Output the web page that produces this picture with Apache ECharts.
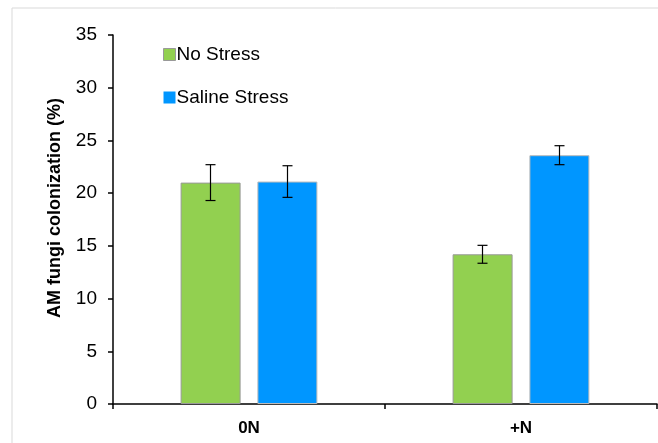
<!DOCTYPE html>
<html>
<head>
<meta charset="utf-8">
<script src="https://cdn.jsdelivr.net/npm/echarts@6/dist/echarts.min.js"></script>
<style>html,body{margin:0;padding:0;background:#fff}#c{width:658px;height:443px}</style>
</head>
<body>
<div id="c"></div>
<script>
var categories = ['0N', '+N'];
var noStress = [21.0, 14.2];
var noStressErr = [1.7, 0.85];
var salineStress = [21.1, 23.6];
var salineStressErr = [1.5, 0.9];
var yTicks = [0, 5, 10, 15, 20, 25, 30, 35];
var yTitle = 'AM fungi colonization (%)';

var chart = echarts.init(document.getElementById('c'));
var font = 'Liberation Sans, Arial, sans-serif';

function errSeries(vals, errs, offset) {
  return {
    type: 'custom',
    z: 10,
    data: vals.map(function (v, i) { return [i, v - errs[i], v + errs[i]]; }),
    renderItem: function (params, api) {
      var lo = api.coord([api.value(0), api.value(1)]);
      var hi = api.coord([api.value(0), api.value(2)]);
      var x = lo[0] + offset;
      var cap = 5;
      var st = { stroke: '#000', lineWidth: 1.2 };
      return {
        type: 'group',
        children: [
          { type: 'line', shape: { x1: x, y1: lo[1], x2: x, y2: hi[1] }, style: st },
          { type: 'line', shape: { x1: x - cap, y1: lo[1], x2: x + cap, y2: lo[1] }, style: st },
          { type: 'line', shape: { x1: x - cap, y1: hi[1], x2: x + cap, y2: hi[1] }, style: st }
        ]
      };
    }
  };
}

chart.setOption({
  animation: false,
  backgroundColor: '#fff',
  graphic: [{
    type: 'rect',
    shape: { x: 12, y: 8, width: 660, height: 460 },
    style: { fill: 'none', stroke: '#d9d9d9', lineWidth: 1 },
    silent: true
  }, {
    type: 'text',
    x: 55,
    y: 208,
    rotation: Math.PI / 2,
    style: {
      text: yTitle,
      fontFamily: font,
      fontSize: 18,
      fontWeight: 'bold',
      fill: '#000',
      align: 'center',
      verticalAlign: 'middle'
    },
    silent: true
  }],
  legend: {
    orient: 'vertical',
    left: 158,
    top: 40,
    itemWidth: 12,
    itemHeight: 12,
    itemGap: 24,
    textStyle: { fontFamily: font, fontSize: 19, color: '#000', padding: [0, 0, 0, -4] },
    data: [
      { name: 'No Stress', icon: 'rect', itemStyle: { borderColor: '#999', borderWidth: 1 } },
      { name: 'Saline Stress', icon: 'rect', itemStyle: { borderWidth: 0 } }
    ]
  },
  grid: { left: 113, right: 1, top: 35, bottom: 39 },
  xAxis: {
    type: 'category',
    data: categories,
    axisLine: { lineStyle: { color: '#000', width: 1.5 } },
    axisTick: { show: true, alignWithLabel: false, length: 5, lineStyle: { color: '#000', width: 1.5 } },
    axisLabel: { fontFamily: font, fontSize: 17, fontWeight: 'bold', color: '#000', margin: 16 }
  },
  yAxis: {
    type: 'value',
    min: yTicks[0],
    max: yTicks[yTicks.length - 1],
    interval: 5,
    axisLine: { show: true, lineStyle: { color: '#000', width: 1.5 } },
    axisTick: { show: true, length: 5, lineStyle: { color: '#000', width: 1.5 } },
    axisLabel: { fontFamily: font, fontSize: 19, color: '#000', margin: 16 },
    splitLine: { show: false }
  },
  series: [
    {
      name: 'No Stress', type: 'bar', data: noStress, barWidth: 60, barGap: '28%',
      itemStyle: { color: '#92d050', borderColor: '#999', borderWidth: 1 }
    },
    {
      name: 'Saline Stress', type: 'bar', data: salineStress, barWidth: 60, barGap: '28%',
      itemStyle: { color: '#0096ff', borderColor: '#bbb', borderWidth: 1 }
    },
    errSeries(noStress, noStressErr, -38.5),
    errSeries(salineStress, salineStressErr, 38.5)
  ]
});
</script>
</body>
</html>
